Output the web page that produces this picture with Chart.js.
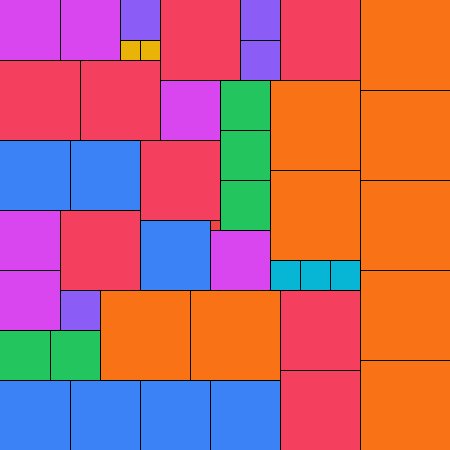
<!DOCTYPE html>
<html>
<head>
<meta charset="utf-8">
<script src="https://cdn.jsdelivr.net/npm/chart.js@4"></script>
<style>
html,body{margin:0;padding:0;background:#fff;}
#wrap{width:450px;height:450px;}
</style>
</head>
<body>
<div id="wrap"><canvas id="c" width="450" height="450"></canvas></div>
<script>
// Partridge tiling (n = 9) of a 45 x 45 square, in tiling units
const squareSizes = [9,9,9,9,9,9,9,9,9, 8,8,8,8,8,8,8,8, 7,7,7,7,7,7,7, 6,6,6,6,6,6, 5,5,5,5,5, 4,4,4,4, 3,3,3, 2,2, 1];
const squareX =     [36,36,36,36,36,27,27,10,19, 16,28,0,8,14,6,28,28, 0,7,14,0,7,14,21, 0,6,16,0,0,21, 22,22,22,0,5, 12,24,24,6, 27,30,33, 12,14, 21];
const squareY =     [0,9,18,27,36,8,17,29,29, 0,0,6,6,14,21,29,37, 14,14,22,38,38,38,38, 0,0,8,21,27,23, 8,13,18,33,33, 0,0,4,29, 26,26,26, 4,4, 22];
const sizeColors = {9:'#f97316',8:'#f43f5e',7:'#3b82f6',6:'#d946ef',5:'#22c55e',4:'#8b5cf6',3:'#06b6d4',2:'#eab308',1:'#ef4444'};
const TOTAL = 45;

const points = squareSizes.map((s,i)=>({x:squareX[i], y:squareY[i], s:s}));

const squaresPlugin = {
  id:'squares',
  afterDatasetsDraw(chart){
    const ctx = chart.ctx, xs = chart.scales.x, ys = chart.scales.y;
    const pts = chart.data.datasets[0].data;
    ctx.save();
    pts.forEach(p=>{
      const x0 = Math.round(xs.getPixelForValue(p.x)), x1 = Math.round(xs.getPixelForValue(p.x+p.s));
      const y0 = Math.round(ys.getPixelForValue(p.y)), y1 = Math.round(ys.getPixelForValue(p.y+p.s));
      ctx.fillStyle = sizeColors[p.s];
      ctx.fillRect(x0,y0,x1-x0,y1-y0);
    });
    ctx.strokeStyle = '#000';
    ctx.lineWidth = 1;
    pts.forEach(p=>{
      const x0 = Math.round(xs.getPixelForValue(p.x)), x1 = Math.round(xs.getPixelForValue(p.x+p.s));
      const y0 = Math.round(ys.getPixelForValue(p.y)), y1 = Math.round(ys.getPixelForValue(p.y+p.s));
      ctx.beginPath();
      if (p.x > 0){ ctx.moveTo(x0+0.5,y0); ctx.lineTo(x0+0.5,y1); }
      if (p.y > 0){ ctx.moveTo(x0,y0+0.5); ctx.lineTo(x1,y0+0.5); }
      ctx.stroke();
    });
    ctx.restore();
  }
};

new Chart(document.getElementById('c'), {
  type:'scatter',
  data:{datasets:[{data:points, pointRadius:0, pointHoverRadius:0}]},
  options:{
    responsive:false,
    animation:false,
    layout:{padding:0},
    plugins:{legend:{display:false}, tooltip:{enabled:false}},
    scales:{
      x:{type:'linear', min:0, max:TOTAL, display:false},
      y:{type:'linear', min:0, max:TOTAL, reverse:true, display:false}
    }
  },
  plugins:[squaresPlugin]
});
</script>
</body>
</html>
